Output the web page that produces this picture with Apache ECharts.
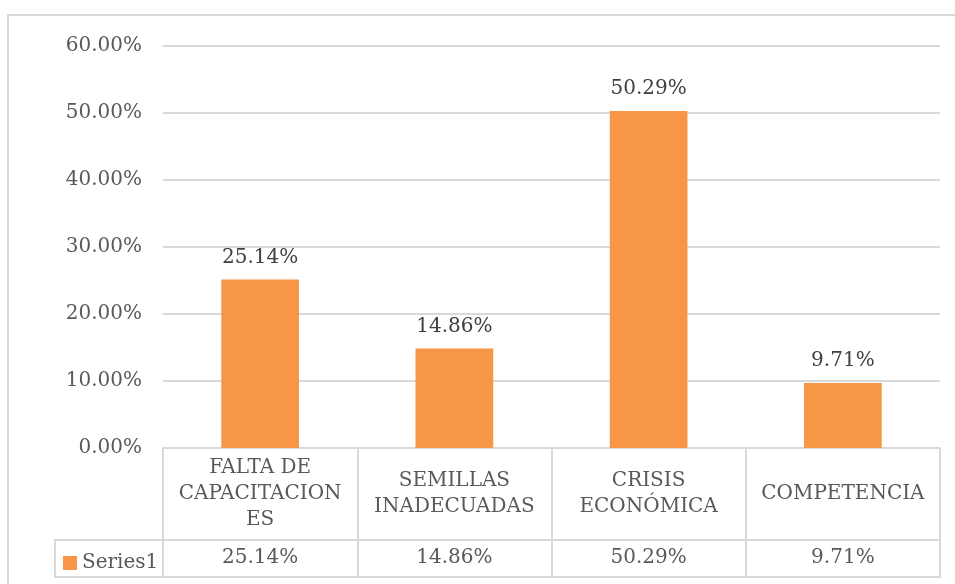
<!DOCTYPE html>
<html>
<head>
<meta charset="utf-8">
<script src="https://cdn.jsdelivr.net/npm/echarts@6/dist/echarts.min.js"></script>
<style>
  html, body { margin: 0; padding: 0; background: #fff; }
  #main { width: 955px; height: 584px; }
</style>
</head>
<body>
<div id="main"></div>
<script>
var myChart = echarts.init(document.getElementById('main'));

// datos
let categories = ['FALTA DE\nCAPACITACION\nES', 'SEMILLAS\nINADECUADAS', 'CRISIS\nECONÓMICA', 'COMPETENCIA'];
let values = [0.2514, 0.1486, 0.5029, 0.0971];
let seriesName = 'Series1';

let font = 'DejaVu Serif';
let txt = '#595959';
let lineCol = '#d9d9d9';
let orange = '#f79646';

let pct = function(v) {
    return (v * 100).toFixed(2) + '%';
}

let option = {
    animation: false,
    textStyle: { fontFamily: font },
    grid: {
        left: 163,
        right: 15,
        top: 46,
        bottom: 136
    },
    legend: {
        data: [seriesName],
        left: 58,
        top: 548,
        itemWidth: 14,
        itemHeight: 14,
        itemGap: 5,
        icon: 'rect',
        textStyle: { fontFamily: font, fontSize: 20, color: txt }
    },
    xAxis: [
        {
            type: 'category',
            data: categories,
            position: 'bottom',
            axisLine: { show: true, lineStyle: { color: lineCol, width: 2 } },
            axisTick: { show: true, length: 129, alignWithLabel: false, lineStyle: { color: lineCol, width: 2 } },
            axisLabel: {
                interval: 0,
                margin: 46,
                verticalAlign: 'middle',
                lineHeight: 26,
                fontSize: 20,
                fontFamily: font,
                color: txt
            }
        },
        {
            type: 'category',
            data: values.map(pct),
            position: 'bottom',
            offset: 92,
            axisLine: { show: true, lineStyle: { color: lineCol, width: 2 } },
            axisTick: { show: false },
            axisLabel: {
                interval: 0,
                margin: 18,
                verticalAlign: 'middle',
                fontSize: 20,
                fontFamily: font,
                color: txt
            }
        },
        {
            type: 'category',
            data: categories,
            position: 'bottom',
            offset: 129,
            axisLine: { show: true, lineStyle: { color: lineCol, width: 2 } },
            axisTick: { show: false },
            axisLabel: { show: false }
        }
    ],
    yAxis: {
        type: 'value',
        min: 0,
        max: 0.6,
        interval: 0.1,
        axisLine: { show: false },
        axisTick: { show: false },
        splitLine: { lineStyle: { color: lineCol, width: 2 } },
        axisLabel: {
            margin: 21,
            fontSize: 20,
            fontFamily: font,
            color: txt,
            formatter: pct
        }
    },
    graphic: [
        // borde exterior del grafico
        {
            type: 'rect',
            shape: { x: 8, y: 15, width: 960, height: 600 },
            style: { fill: null, stroke: lineCol, lineWidth: 2 },
            silent: true
        },
        // celda de la leyenda en la tabla
        {
            type: 'polyline',
            shape: { points: [[163, 540], [55, 540], [55, 577], [163, 577]] },
            style: { fill: null, stroke: lineCol, lineWidth: 2 },
            silent: true
        }
    ],
    series: [
        {
            name: seriesName,
            type: 'bar',
            data: values,
            barWidth: '40%',
            itemStyle: { color: orange },
            label: {
                show: true,
                position: 'top',
                distance: 12,
                fontSize: 20,
                fontFamily: font,
                color: '#404040',
                formatter: function(p) { return pct(p.value); }
            }
        }
    ]
};

myChart.setOption(option);
</script>
</body>
</html>
